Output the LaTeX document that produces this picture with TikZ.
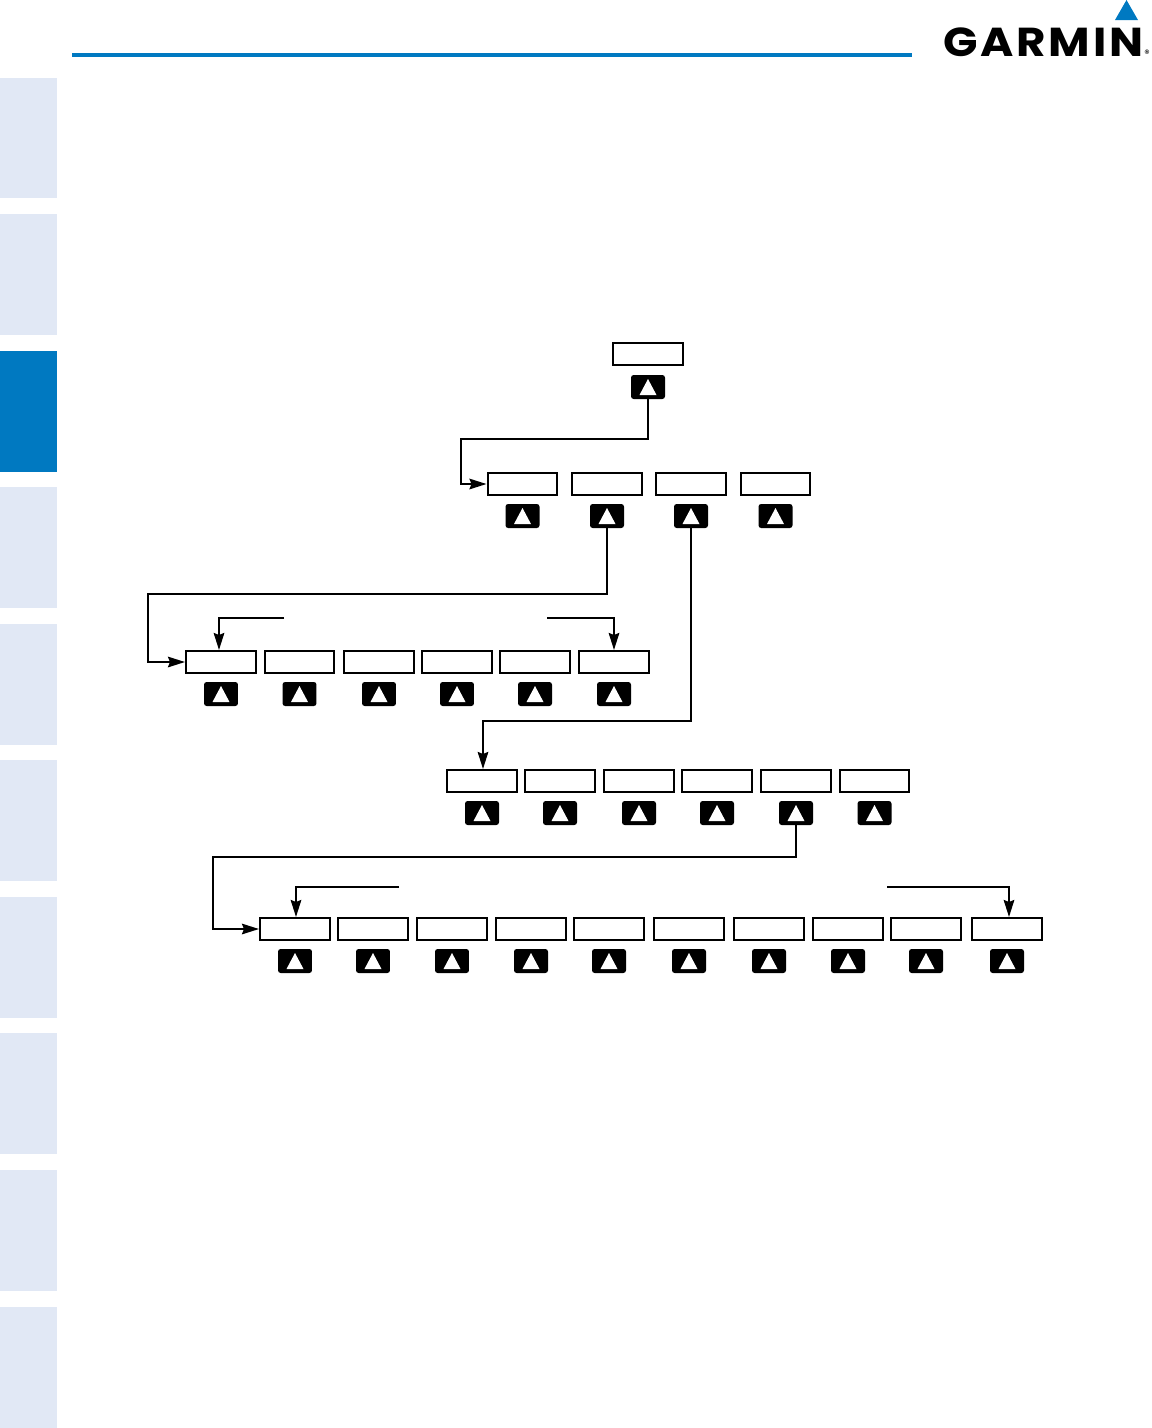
\documentclass[tikz,border=0pt]{standalone}
\usepackage{fontspec}
\setsansfont{Poppins}
\newfontfamily\logofont[LetterSpace=6]{Poppins}
\usepackage{tikz}
\usetikzlibrary{arrows.meta,positioning}
\definecolor{GarminBlue}{HTML}{0079C1}
\definecolor{GarminTab}{HTML}{E1E8F5}

\begin{document}
\begin{tikzpicture}[
  x=0.02cm, y=-0.02cm,
  keybox/.style={draw, line width=0.04cm, minimum width=1.4cm,
                 minimum height=0.44cm, inner sep=0pt, fill=white},
  keybtn/.style={fill=black, rounded corners=1.5pt, minimum width=0.68cm,
                 minimum height=0.48cm, inner sep=0pt,
                 path picture={\fill[white, sharp corners]
                   ([xshift=-0.17cm,yshift=-0.16cm]path picture bounding box.center) --
                   ([xshift=0.17cm,yshift=-0.16cm]path picture bounding box.center) --
                   ([yshift=0.16cm]path picture bounding box.center) -- cycle;}},
  tab/.style={fill=#1, minimum width=1.14cm, minimum height=2.42cm, inner sep=0pt},
  arr/.style={-{Stealth[length=0.34cm,width=0.21cm,inset=0.04cm]}, line width=0.045cm}
]
\useasboundingbox (0,0) rectangle (1152,1428);

% Side tabs
\node[tab=GarminTab, minimum height=2.4cm] (tab1) at (28.5,138) {};
\node[tab=GarminTab] (tab2) at (28.5,274.5) {};
\node[tab=GarminBlue] (tab3) at (28.5,411.5) {};
\node[tab=GarminTab] (tab4) at (28.5,547.5) {};
\node[tab=GarminTab] (tab5) at (28.5,684.5) {};
\node[tab=GarminTab] (tab6) at (28.5,820.5) {};
\node[tab=GarminTab] (tab7) at (28.5,957.5) {};
\node[tab=GarminTab] (tab8) at (28.5,1093.5) {};
\node[tab=GarminTab] (tab9) at (28.5,1230.5) {};
\node[tab=GarminTab] (tab10) at (28.5,1367) {};

% Header rule and logo
\fill[GarminBlue] (72,53) rectangle (912,57);
\fill[GarminBlue] (1126.5,0) -- (1138,20) -- (1115,20) -- cycle;
\node[inner sep=0pt, anchor=base west, xscale=1.12, transform shape,
      font=\logofont\bfseries\fontsize{23}{26}\selectfont]
  (logo) at (943,56) {GARMIN};
\node[inner sep=0pt, font=\sffamily\fontsize{6}{7}\selectfont] (logor) at (1147,54) {®};

% Top softkey
\node[keybox] (key0) at (648,354) {};
\node[keybtn] (btn0) at (648,387) {};

% First row
\node[keybox] (keyA1) at (522.5,484) {};
\node[keybox] (keyA2) at (607,484) {};
\node[keybox] (keyA3) at (691,484) {};
\node[keybox] (keyA4) at (775.5,484) {};
\node[keybtn] (btnA1) at (522.5,516) {};
\node[keybtn] (btnA2) at (607,516) {};
\node[keybtn] (btnA3) at (691,516) {};
\node[keybtn] (btnA4) at (775.5,516) {};

% Second row
\node[keybox] (keyB1) at (221,662) {};
\node[keybox] (keyB2) at (299.5,662) {};
\node[keybox] (keyB3) at (379,662) {};
\node[keybox] (keyB4) at (457,662) {};
\node[keybox] (keyB5) at (535,662) {};
\node[keybox] (keyB6) at (614,662) {};
\node[keybtn] (btnB1) at (221,694) {};
\node[keybtn] (btnB2) at (299.5,694) {};
\node[keybtn] (btnB3) at (379,694) {};
\node[keybtn] (btnB4) at (457,694) {};
\node[keybtn] (btnB5) at (535,694) {};
\node[keybtn] (btnB6) at (614,694) {};

% Third row
\node[keybox] (keyC1) at (482,781) {};
\node[keybox] (keyC2) at (560,781) {};
\node[keybox] (keyC3) at (639,781) {};
\node[keybox] (keyC4) at (717,781) {};
\node[keybox] (keyC5) at (796,781) {};
\node[keybox] (keyC6) at (874.5,781) {};
\node[keybtn] (btnC1) at (482,813) {};
\node[keybtn] (btnC2) at (560,813) {};
\node[keybtn] (btnC3) at (639,813) {};
\node[keybtn] (btnC4) at (717,813) {};
\node[keybtn] (btnC5) at (796,813) {};
\node[keybtn] (btnC6) at (874.5,813) {};

% Fourth row
\node[keybox] (keyD1) at (295,929) {};
\node[keybox] (keyD2) at (373,929) {};
\node[keybox] (keyD3) at (452,929) {};
\node[keybox] (keyD4) at (531,929) {};
\node[keybox] (keyD5) at (609,929) {};
\node[keybox] (keyD6) at (689,929) {};
\node[keybox] (keyD7) at (769,929) {};
\node[keybox] (keyD8) at (848,929) {};
\node[keybox] (keyD9) at (926,929) {};
\node[keybox] (keyD10) at (1007,929) {};
\node[keybtn] (btnD1) at (295,961) {};
\node[keybtn] (btnD2) at (373,961) {};
\node[keybtn] (btnD3) at (452,961) {};
\node[keybtn] (btnD4) at (531,961) {};
\node[keybtn] (btnD5) at (609,961) {};
\node[keybtn] (btnD6) at (689,961) {};
\node[keybtn] (btnD7) at (769,961) {};
\node[keybtn] (btnD8) at (848,961) {};
\node[keybtn] (btnD9) at (926,961) {};
\node[keybtn] (btnD10) at (1007,961) {};

% Bend points and free ends
\coordinate (bendA) at (461,439);
\coordinate (bendB) at (148,594);
\coordinate (bendC) at (483,721);
\coordinate (bendD) at (213,857);
\coordinate (freeB1) at (284,618);
\coordinate (freeB2) at (547,618);
\coordinate (freeD1) at (399,887);
\coordinate (freeD2) at (887,887);

% Connectors
\draw[arr] (btn0.south) |- (bendA) |- (keyA1.west);
\draw[arr] (btnA2.south) |- (bendB) |- (keyB1.west);
\draw[arr] (btnA3.south) |- (bendC) -- (bendC |- keyC1.north);
\draw[arr] (btnC5.south) |- (bendD) |- (keyD1.west);

% Range arrows
\draw[arr] (freeB1) -| ([xshift=-0.04cm]keyB1.north);
\draw[arr] (freeB2) -| (keyB6.north);
\draw[arr] (freeD1) -| ([xshift=0.02cm]keyD1.north);
\draw[arr] (freeD2) -| ([xshift=0.04cm]keyD10.north);

\end{tikzpicture}
\end{document}
